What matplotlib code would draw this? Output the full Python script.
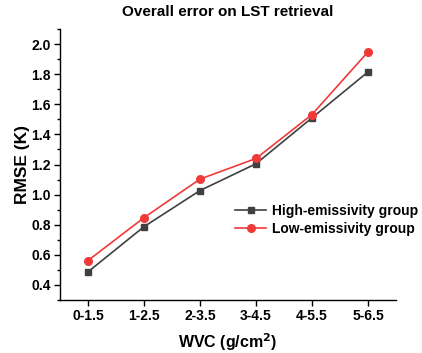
import numpy as np
import matplotlib.pyplot as plt
from matplotlib.ticker import MultipleLocator

plt.rcParams['font.family'] = ['Liberation Sans', 'DejaVu Sans']
plt.rcParams['font.weight'] = 'bold'

# data
categories = ['0-1.5', '1-2.5', '2-3.5', '3-4.5', '4-5.5', '5-6.5']
high_emis = [0.487, 0.787, 1.027, 1.205, 1.51, 1.815]
low_emis = [0.562, 0.847, 1.103, 1.24, 1.532, 1.948]

fig = plt.figure(figsize=(4.22, 3.53), dpi=100)
ax = fig.add_axes([60/422, 1 - 300/353, 336/422, 271/353])

x = np.arange(len(categories))
ax.plot(x, high_emis, color='#404040', marker='s', markersize=5, lw=1.2,
        label='High-emissivity group')
ax.plot(x, low_emis, color='#f03a3a', marker='o', markersize=5.5, lw=1.2,
        label='Low-emissivity group')

ax.set_xlim(-0.5, 5.5)
ax.set_ylim(0.3, 2.1)
ax.set_xticks(x)
ax.set_xticklabels(categories)
ax.yaxis.set_major_locator(MultipleLocator(0.2))
ax.yaxis.set_minor_locator(MultipleLocator(0.1))
ax.tick_params(labelsize=10, direction='out', length=4, width=1, pad=2.5)
ax.tick_params(which='minor', direction='out', length=2.5, width=1)
for lab in ax.get_xticklabels() + ax.get_yticklabels():
    lab.set_fontweight('bold')

for s in ['top', 'right']:
    ax.spines[s].set_visible(False)
for s in ['left', 'bottom']:
    ax.spines[s].set_linewidth(1)

ax.set_title('Overall error on LST retrieval', fontsize=11, fontweight='bold', pad=9)
ax.set_xlabel('WVC (g/cm$^\\mathbf{2}$)', fontsize=11.5, fontweight='bold', labelpad=6)
ax.set_ylabel('RMSE (K)', fontsize=12.5, fontweight='bold', labelpad=1)

ax.legend(loc='center left', bbox_to_anchor=(0.485, 0.295), frameon=False,
          prop={'size': 10, 'weight': 'bold'}, handlelength=2.2, handletextpad=0.4,
          labelspacing=0.25)

fig.savefig('out.png', dpi=100)
